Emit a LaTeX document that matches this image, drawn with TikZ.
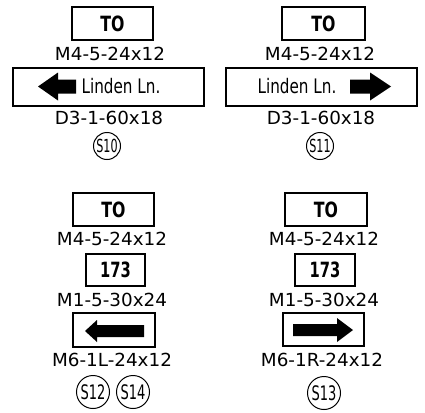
\documentclass[tikz,border=0pt]{standalone}
\usepackage{fontspec}
\setmainfont{DejaVu Sans}
\usepackage{graphicx}
\newcommand{\hsc}[2]{\scalebox{#1}[1]{#2}}
\begin{document}
\begin{tikzpicture}[x=1pt,y=-1pt,
  signbox/.style={draw, line width=1.8pt, inner sep=0pt},
  code/.style={font=\fontsize{18}{18}\selectfont, inner sep=0pt},
  boldtxt/.style={font=\bfseries\fontsize{21}{21}\selectfont, inner sep=0pt},
  street/.style={font=\fontsize{20}{20}\selectfont, inner sep=0pt},
  tagsm/.style={draw, circle, line width=1pt, minimum size=27, inner sep=0pt, font=\fontsize{18}{18}\selectfont},
  taglg/.style={draw, circle, line width=1pt, minimum size=33, inner sep=0pt, font=\fontsize{20}{20}\selectfont},
  arrowfill/.style={fill=black}]
\fill[white] (0,0) rectangle (425,412);
\useasboundingbox (0,0) rectangle (425,412);

% ---------- top left ----------
\node[signbox, minimum width=81, minimum height=33] (to1) at (112.5,23.5) {};
\node[boldtxt] (to1t) at (to1.center) {\hsc{0.75}{TO}};
\node[code] (c1) at (110,54) {\hsc{1.02}{M4-5-24x12}};
\node[signbox, minimum width=191, minimum height=38] (d1) at (108.5,87) {};
\node[street] (t1) at (121,86.5) {\hsc{0.76}{Linden Ln.}};
\fill[arrowfill] (38,86.5) -- (58,72.5) -- (58,79.5) -- (76,79.5) -- (76,93.5) -- (58,93.5) -- (58,100.5) -- cycle;
\node[code] (c2) at (109,118) {\hsc{1.02}{D3-1-60x18}};
\node[tagsm] (s10) at (107,146) {\hsc{0.62}{S10}};

% ---------- top right ----------
\node[signbox, minimum width=83, minimum height=33] (to2) at (323.5,23.5) {};
\node[boldtxt] (to2t) at (to2.center) {\hsc{0.75}{TO}};
\node[code] (c3) at (320,54) {\hsc{1.02}{M4-5-24x12}};
\node[signbox, minimum width=191, minimum height=38] (d2) at (321.5,87) {};
\node[street] (t2) at (297,86.5) {\hsc{0.76}{Linden Ln.}};
\fill[arrowfill] (350,79.5) -- (370,79.5) -- (370,72.5) -- (391,86.5) -- (370,100.5) -- (370,93.5) -- (350,93.5) -- cycle;
\node[code] (c4) at (321,118) {\hsc{1.02}{D3-1-60x18}};
\node[tagsm] (s11) at (320,146) {\hsc{0.62}{S11}};

% ---------- bottom left ----------
\node[signbox, minimum width=81, minimum height=33] (to3) at (113.5,209.5) {};
\node[boldtxt] (to3t) at (to3.center) {\hsc{0.75}{TO}};
\node[code] (c5) at (112,239) {\hsc{1.02}{M4-5-24x12}};
\node[signbox, minimum width=59, minimum height=32] (r1) at (115.5,270) {};
\node[boldtxt] (r1t) at (r1.center) {\hsc{0.7}{173}};
\node[code] (c6) at (112,300) {\hsc{1.02}{M1-5-30x24}};
\node[signbox, minimum width=82, minimum height=34] (a1) at (114,330) {};
\fill[arrowfill] (85,331) -- (97,320) -- (97,325) -- (144,325) -- (144,337) -- (97,337) -- (97,342) -- cycle;
\node[code] (c7) at (112,360) {\hsc{1.02}{M6-1L-24x12}};
\node[taglg] (s12) at (93,392) {\hsc{0.65}{S12}};
\node[taglg] (s14) at (133,392) {\hsc{0.65}{S14}};

% ---------- bottom right ----------
\node[signbox, minimum width=82, minimum height=33] (to4) at (326,209.5) {};
\node[boldtxt] (to4t) at (to4.center) {\hsc{0.75}{TO}};
\node[code] (c8) at (324,239) {\hsc{1.02}{M4-5-24x12}};
\node[signbox, minimum width=60, minimum height=32] (r2) at (325,270) {};
\node[boldtxt] (r2t) at (r2.center) {\hsc{0.7}{173}};
\node[code] (c9) at (324,300) {\hsc{1.02}{M1-5-30x24}};
\node[signbox, minimum width=81, minimum height=33] (a2) at (323.5,329.5) {};
\fill[arrowfill] (293,324) -- (337,324) -- (337,318) -- (353,330) -- (337,342) -- (337,336) -- (293,336) -- cycle;
\node[code] (c10) at (322,360) {\hsc{1.02}{M6-1R-24x12}};
\node[taglg] (s13) at (324,393) {\hsc{0.65}{S13}};
\end{tikzpicture}
\end{document}
